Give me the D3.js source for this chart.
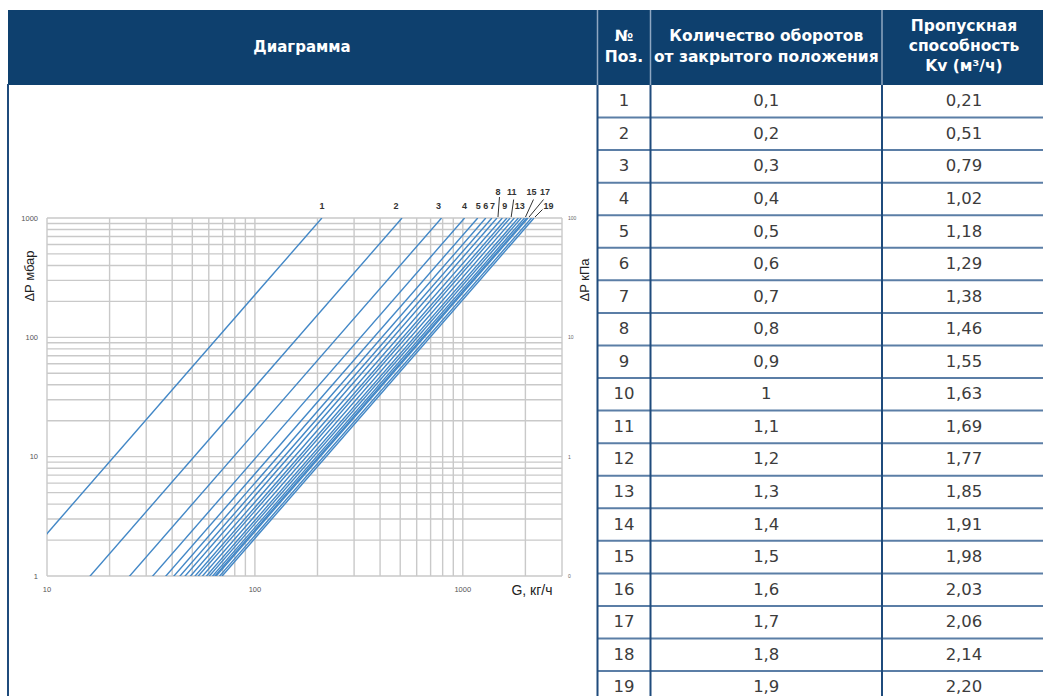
<!DOCTYPE html>
<html><head><meta charset="utf-8">
<script src="https://cdn.jsdelivr.net/npm/d3@7"></script>
<style>
html,body{margin:0;padding:0;background:#fff;overflow:hidden;}
svg{display:block;}
</style></head>
<body><svg id="c" width="1043" height="696"></svg>
<script>
// ---- data ----
const positions = [1,2,3,4,5,6,7,8,9,10,11,12,13,14,15,16,17,18,19];
const turns = [0.1,0.2,0.3,0.4,0.5,0.6,0.7,0.8,0.9,1,1.1,1.2,1.3,1.4,1.5,1.6,1.7,1.8,1.9];
const kv = [0.21,0.51,0.79,1.02,1.18,1.29,1.38,1.46,1.55,1.63,1.69,1.77,1.85,1.91,1.98,2.03,2.06,2.14,2.20];
const xTicks = [10,100,1000];
const yTicks = [1,10,100,1000];
const rightTickLabels = ["0","1","10","100"];
const labelledPositions = [1,2,3,4,5,6,7,8,9,11,13,15,17,19];
const headerTitle = "Диаграмма";
const colHeaders = [["№","Поз."],["Количество оборотов","от закрытого положения"],["Пропускная","способность","Kv (м³/ч)"]];

// ---- layout ----
const svg = d3.select("#c");
const NAVY = "#0e406e";
const HFONT = "'DejaVu Sans', Verdana, sans-serif";
const headTop = 10, headBot = 85;
const cols = [597.5, 650.5, 882, 1050];
const rowH = 32.56;

// header
svg.append("rect").attr("x",8).attr("y",headTop).attr("width",1043-8).attr("height",headBot-headTop).attr("fill",NAVY);
svg.append("text").attr("x",302).attr("y",47).attr("text-anchor","middle").attr("dominant-baseline","central")
  .attr("fill","#fff").attr("font-family",HFONT).attr("font-weight","bold").attr("font-size",15).text(headerTitle);
cols.slice(0,3).forEach(x=>{
  svg.append("line").attr("x1",x).attr("x2",x).attr("y1",headTop).attr("y2",headBot).attr("stroke","#8fa7c2").attr("stroke-width",1.5);
});
const headerCenters = [(cols[0]+cols[1])/2,(cols[1]+cols[2])/2,(cols[2]+cols[3])/2 - 2];
const headerLineY = [[36,57],[36,57],[26,46,66]];
colHeaders.forEach((lines,i)=>{
  lines.forEach((t,j)=>{
    svg.append("text").attr("x",headerCenters[i]).attr("y",headerLineY[i][j]).attr("text-anchor","middle")
      .attr("dominant-baseline","central").attr("fill","#fff").attr("font-family",HFONT)
      .attr("font-weight","bold").attr("font-size",15.5).text(t);
  });
});

// table body
const body = svg.append("g");
const fmtComma = v => String(v).replace(".",",");
const fmtKv = v => d3.format(".2f")(v).replace(".",",");
positions.forEach((p,i)=>{
  const top = headBot + i*rowH;
  const cy = top + rowH/2 - 0.5;
  const vals = [String(p), fmtComma(turns[i]), fmtKv(kv[i])];
  vals.forEach((t,k)=>{
    body.append("text").attr("x",headerCenters[k]).attr("y",cy).attr("text-anchor","middle").attr("dominant-baseline","central")
      .attr("fill","#3c3c3c").attr("font-family","'DejaVu Sans', Roboto, sans-serif").attr("font-size",16.5).text(t);
  });
  if(i>0){
    body.append("line").attr("x1",cols[0]).attr("x2",1043).attr("y1",top).attr("y2",top).attr("stroke","#5b7ea6").attr("stroke-width",2);
  }
});
cols.slice(0,3).forEach(x=>{
  body.append("line").attr("x1",x).attr("x2",x).attr("y1",headBot).attr("y2",696).attr("stroke","#1f4b7c").attr("stroke-width",2);
});
svg.append("line").attr("x1",8).attr("x2",8).attr("y1",headBot-1).attr("y2",696).attr("stroke","#1f4b7c").attr("stroke-width",2);

// ---- chart ----
const x = d3.scaleLog().domain([10,3000]).range([47,562]);
const y = d3.scaleLog().domain([1,1000]).range([576,218]);
const chart = svg.append("g");
const GRID = "#c9c9c9";
const AF = "Arial, 'Liberation Sans', sans-serif";
chart.selectAll(".vg").data(x.ticks()).join("line")
  .attr("x1",d=>x(d)).attr("x2",d=>x(d)).attr("y1",y(1)).attr("y2",y(1000))
  .attr("stroke",GRID).attr("stroke-width",1.4);
chart.selectAll(".hg").data(y.ticks()).join("line")
  .attr("x1",x(10)).attr("x2",x(3000)).attr("y1",d=>y(d)).attr("y2",d=>y(d))
  .attr("stroke",GRID).attr("stroke-width",1.4);

chart.selectAll(".yl").data(yTicks).join("text").attr("x",38).attr("y",d=>y(d)).attr("text-anchor","end")
  .attr("dominant-baseline","central").attr("font-family",AF).attr("font-size",7.5).attr("fill","#555").text(d=>d);
chart.selectAll(".xl").data(xTicks).join("text").attr("x",d=>x(d)).attr("y",589).attr("text-anchor","middle")
  .attr("dominant-baseline","central").attr("font-family",AF).attr("font-size",7.5).attr("fill","#555").text(d=>d);
chart.selectAll(".rl").data(yTicks).join("text").attr("x",568).attr("y",d=>y(d)).attr("text-anchor","start")
  .attr("dominant-baseline","central").attr("font-family",AF).attr("font-size",5).attr("fill","#666").text((d,i)=>rightTickLabels[i]);

chart.append("text").attr("transform","translate(29,276) rotate(-90)").attr("text-anchor","middle").attr("dominant-baseline","central")
  .attr("font-family",AF).attr("font-size",13).attr("fill","#222").text("ΔP мбар");
chart.append("text").attr("transform","translate(584,280) rotate(-90)").attr("text-anchor","middle").attr("dominant-baseline","central")
  .attr("font-family",AF).attr("font-size",13).attr("fill","#222").text("ΔP кПа");
chart.append("text").attr("x",532).attr("y",590).attr("text-anchor","middle").attr("dominant-baseline","central")
  .attr("font-family",AF).attr("font-size",14).attr("fill","#222").text("G, кг/ч");

// flow lines: ΔP[mbar] = 1000*(G/1000/Kv)^2
svg.append("clipPath").attr("id","plotclip").append("rect")
  .attr("x",x(10)).attr("y",y(1000)).attr("width",x(3000)-x(10)).attr("height",y(1)-y(1000));
const dp = (g,k)=>1000*Math.pow(g/1000/k,2);
const lineGen = d3.line().x(d=>x(d[0])).y(d=>y(d[1]));
chart.append("g").attr("clip-path","url(#plotclip)").selectAll("path").data(kv).join("path")
  .attr("d",k=>{ const g0 = 5, g1 = 1000*k; return lineGen([[g0,dp(g0,k)],[g1,dp(g1,k)]]); })
  .attr("fill","none").attr("stroke","#4287c6").attr("stroke-width",1.4);

// curve labels
const labelLayout = {1:{row:2,dx:0},2:{row:2,dx:-6},3:{row:2,dx:-3},4:{row:2,dx:0},5:{row:2,dx:0.5},6:{row:2,dx:0},7:{row:2,dx:0.5},
  8:{row:1,dx:1,lead:[1.5,5.5]},9:{row:2,dx:2.5},11:{row:1,dx:1.5,lead:[2,8]},13:{row:2,dx:1.5},
  15:{row:1,dx:7,lead:[2,8]},17:{row:1,dx:17,lead:[-1.5,8]},19:{row:2,dx:14.5,lead:[-6,4]}};
const rowY = {1:191.5,2:205.5};
labelledPositions.forEach(p=>{
  const k = kv[p-1];
  const xt = x(1000*k);
  const L = labelLayout[p];
  const lx = xt + L.dx, ly = rowY[L.row];
  chart.append("text").attr("x",lx).attr("y",ly).attr("text-anchor","middle").attr("dominant-baseline","central")
    .attr("font-family",AF).attr("font-weight","bold").attr("font-size",9).attr("fill","#333").text(p);
  if(L.lead){
    chart.append("line").attr("x1",lx+L.lead[0]).attr("y1",ly+L.lead[1]).attr("x2",xt+1).attr("y2",217)
      .attr("stroke","#333").attr("stroke-width",1);
  }
});
</script></body></html>
